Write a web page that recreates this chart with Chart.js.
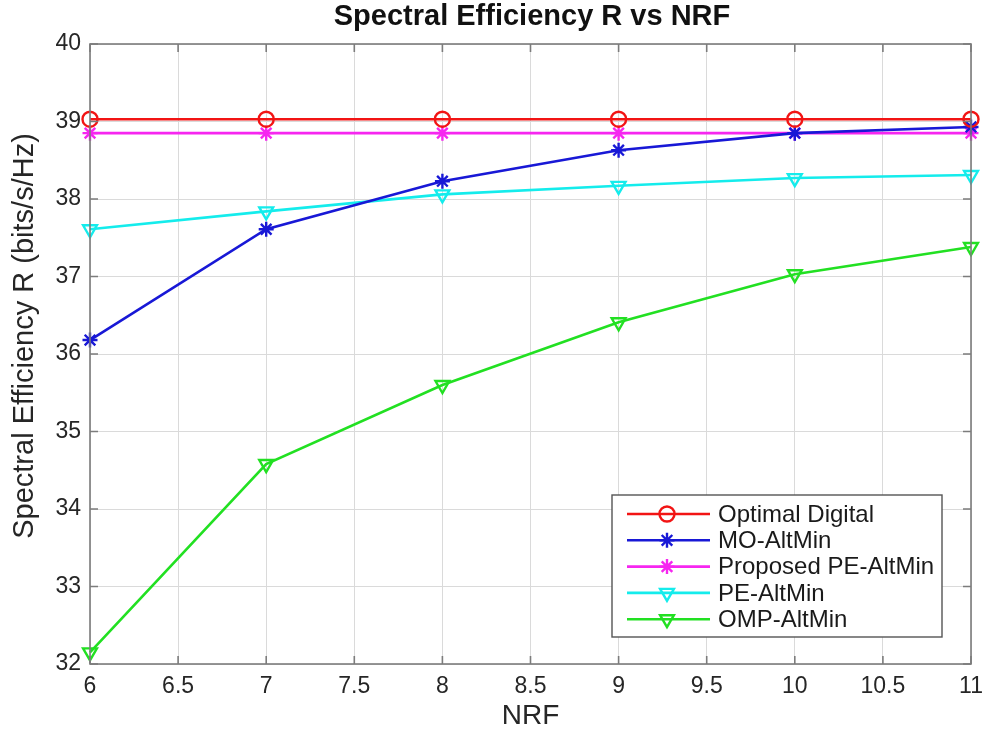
<!DOCTYPE html>
<html>
<head>
<meta charset="utf-8">
<script src="https://cdn.jsdelivr.net/npm/chart.js@4"></script>
<style>
  html, body { margin: 0; padding: 0; background: #fff; }
  #wrap { width: 984px; height: 733px; }
</style>
</head>
<body>
<div id="wrap"><canvas id="myChart" width="984" height="733"></canvas></div>
<script>
// x values (NRF)
const nrf = [6, 7, 8, 9, 10, 11];

// series values
const optimalDigital = [39.03, 39.03, 39.03, 39.03, 39.03, 39.03];
const moAltMin = [36.18, 37.61, 38.23, 38.63, 38.85, 38.93];
const proposedPeAltMin = [38.85, 38.85, 38.85, 38.85, 38.85, 38.85];
const peAltMin = [37.61, 37.84, 38.06, 38.17, 38.27, 38.31];
const ompAltMin = [32.15, 34.58, 35.6, 36.41, 37.03, 37.38];

const seriesNames = ["Optimal Digital", "MO-AltMin", "Proposed PE-AltMin", "PE-AltMin", "OMP-AltMin"];
const seriesColors = ["#f21414", "#1818d6", "#f626f0", "#14ecec", "#22e022"];

const xTicks = [6, 6.5, 7, 7.5, 8, 8.5, 9, 9.5, 10, 10.5, 11];
const yTicks = [32, 33, 34, 35, 36, 37, 38, 39, 40];

const font = "'Liberation Sans', Arial, Helvetica, sans-serif";

function toPoints(vals) {
  return nrf.map((x, i) => ({ x: x, y: vals[i] }));
}

function makeSet(name, vals, color, style) {
  let ds = {
    label: name,
    data: toPoints(vals),
    borderColor: color,
    backgroundColor: color,
    borderWidth: 2.6,
    pointBorderColor: color,
    pointBackgroundColor: "rgba(0,0,0,0)",
    pointBorderWidth: 2.4,
    pointRadius: 7.5,
    pointStyle: style,
    pointRotation: 0,
    tension: 0,
    clip: false
  };
  if (style === "triangle") {
    ds.pointRotation = 180;
    ds.pointRadius = 8;
  }
  return ds;
}

const ctx = document.getElementById("myChart");

// box, inner ticks, legend and titles drawn MATLAB style
const matlabBits = {
  id: "matlabBits",
  afterDatasetsDraw(chart) {
    const c = chart.ctx;
    const a = chart.chartArea;
    const xs = chart.scales.x;
    const ys = chart.scales.y;
    c.save();
    c.strokeStyle = "#7c7c7c";
    c.lineWidth = 1.6;
    c.strokeRect(a.left, a.top, a.right - a.left, a.bottom - a.top);
    c.beginPath();
    xTicks.forEach(t => {
      let px = xs.getPixelForValue(t);
      c.moveTo(px, a.bottom); c.lineTo(px, a.bottom - 8);
      c.moveTo(px, a.top); c.lineTo(px, a.top + 8);
    });
    yTicks.forEach(t => {
      let py = ys.getPixelForValue(t);
      c.moveTo(a.left, py); c.lineTo(a.left + 8, py);
      c.moveTo(a.right, py); c.lineTo(a.right - 8, py);
    });
    c.stroke();

    // title
    c.fillStyle = "#111";
    c.font = "bold 29px " + font;
    c.textAlign = "center";
    c.textBaseline = "middle";
    c.fillText("Spectral Efficiency R vs NRF", 532, 17);

    // y axis title
    c.save();
    c.translate(25, 336);
    c.rotate(-Math.PI / 2);
    c.fillStyle = "#262626";
    c.font = "29px " + font;
    c.fillText("Spectral Efficiency R (bits/s/Hz)", 0, 0);
    c.restore();

    // legend
    const lx = 612, ly = 495, lw = 330, lh = 142;
    c.fillStyle = "#fff";
    c.fillRect(lx, ly, lw, lh);
    c.strokeStyle = "#555";
    c.lineWidth = 1.4;
    c.strokeRect(lx, ly, lw, lh);
    c.font = "24px " + font;
    c.textAlign = "left";
    chart.data.datasets.forEach((ds, i) => {
      let y = ly + 19 + i * 26.3;
      c.strokeStyle = ds.borderColor;
      c.lineWidth = 2.6;
      c.beginPath();
      c.moveTo(lx + 15, y);
      c.lineTo(lx + 98, y);
      c.stroke();
      c.lineWidth = 2.4;
      c.fillStyle = "rgba(0,0,0,0)";
      Chart.helpers.drawPoint(c, {
        pointStyle: ds.pointStyle,
        rotation: ds.pointRotation,
        radius: ds.pointRadius,
        borderWidth: 2.4
      }, lx + 55, y);
      c.fillStyle = "#1a1a1a";
      c.fillText(seriesNames[i], lx + 106, y + 1);
    });
    c.restore();
  }
};

const config = {
  type: "line",
  data: {
    datasets: [
      makeSet(seriesNames[0], optimalDigital, seriesColors[0], "circle"),
      makeSet(seriesNames[1], moAltMin, seriesColors[1], "star"),
      makeSet(seriesNames[2], proposedPeAltMin, seriesColors[2], "star"),
      makeSet(seriesNames[3], peAltMin, seriesColors[3], "triangle"),
      makeSet(seriesNames[4], ompAltMin, seriesColors[4], "triangle")
    ]
  },
  options: {
    responsive: false,
    animation: false,
    layout: { padding: { top: 44, right: 13, left: 0, bottom: 0 } },
    plugins: {
      legend: { display: false },
      title: { display: false },
      tooltip: { enabled: false }
    },
    scales: {
      x: {
        type: "linear",
        min: 6,
        max: 11,
        afterBuildTicks: (s) => { s.ticks = xTicks.map(v => ({ value: v })); },
        afterFit: (s) => { s.height = 69; s.paddingLeft = 0; s.paddingRight = 0; },
        grid: { color: "#dadada", lineWidth: 1, drawTicks: false },
        border: { display: false },
        ticks: {
          padding: 9,
          color: "#262626",
          font: { family: font, size: 23 },
          maxRotation: 0,
          callback: (v) => v.toString()
        },
        title: {
          display: true,
          text: "NRF",
          color: "#262626",
          font: { family: font, size: 28 },
          padding: { top: 0, bottom: 0 }
        }
      },
      y: {
        min: 32,
        max: 40,
        afterBuildTicks: (s) => { s.ticks = yTicks.map(v => ({ value: v })); },
        afterFit: (s) => { s.width = 90; s.paddingTop = 0; s.paddingBottom = 0; },
        grid: { color: "#dadada", lineWidth: 1, drawTicks: false },
        border: { display: false },
        ticks: {
          padding: 9,
          color: "#262626",
          font: { family: font, size: 23 },
          callback: (v) => v.toString()
        },
        title: { display: false }
      }
    }
  },
  plugins: [matlabBits]
};

let chart = new Chart(ctx, config);
</script>
</body>
</html>
